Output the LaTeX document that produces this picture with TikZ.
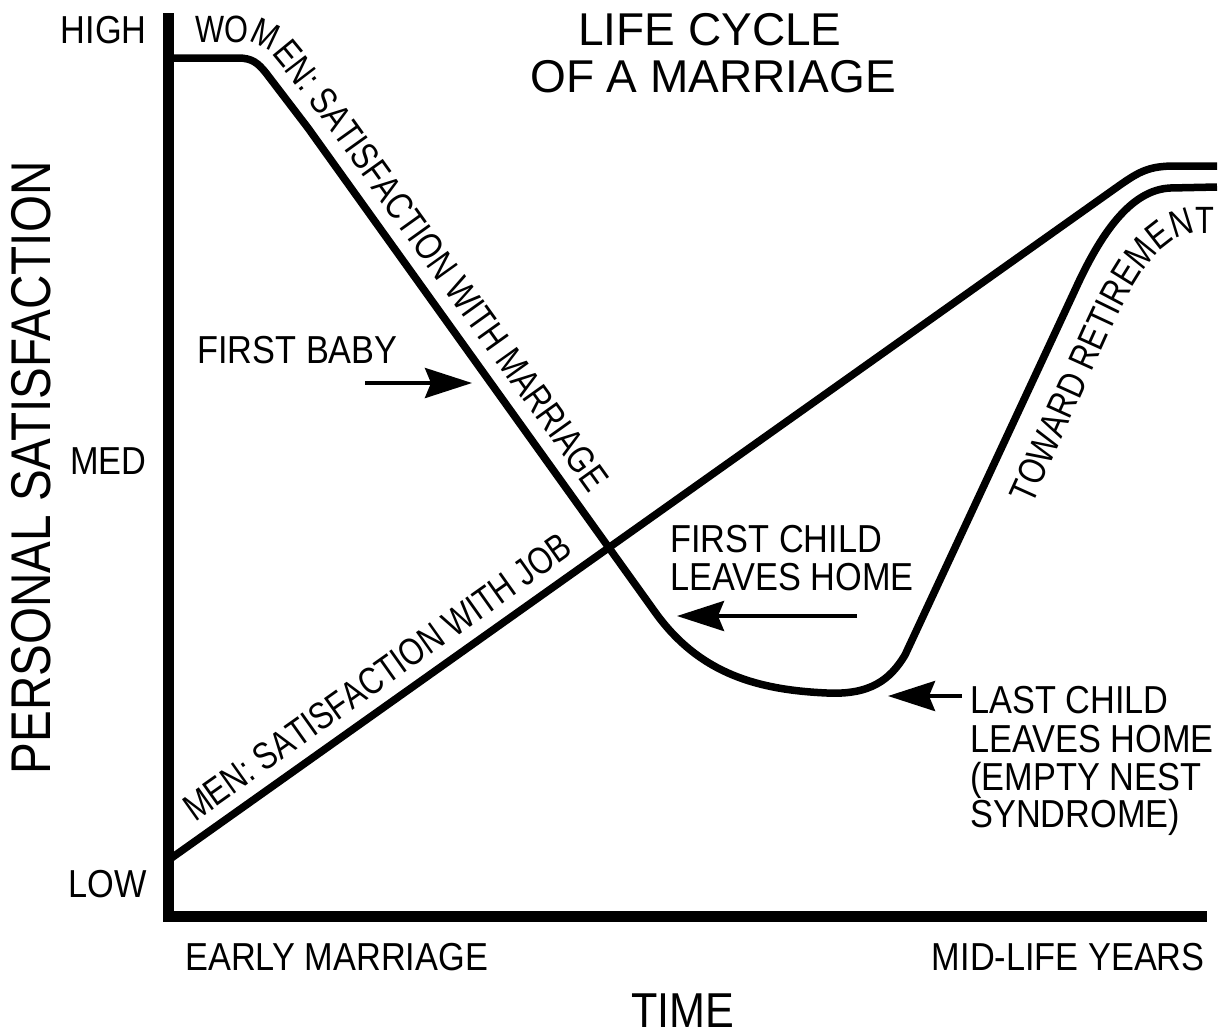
\documentclass[tikz,border=0pt]{standalone}
\usepackage{fontspec}
\setmainfont{Liberation Sans}
\newfontfamily\labfont[FakeStretch=0.88]{Liberation Sans}
\newfontfamily\curvefam[FakeStretch=0.81]{Liberation Sans}
\newfontfamily\axisfont[FakeStretch=0.85]{Liberation Sans}
\newfontfamily\titfont{Liberation Sans}
\newcommand\curvefont{\curvefam\fontsize{19}{19}\selectfont}
\usetikzlibrary{arrows.meta,decorations.text}
\tikzset{
  curve/.style={line width=3.75pt, line join=round, line cap=butt},
  axisline/.style={line width=5.5pt, line join=miter},
  pointer/.style={line width=2pt, -{Stealth[length=23.5pt,width=15pt,inset=3pt]}},
  lab/.style={font=\labfont\fontsize{19.5}{19}\selectfont, inner sep=0pt},
  bigtitle/.style={font=\titfont\fontsize{23}{23}\selectfont, inner sep=0pt},
  axlab/.style={font=\axisfont\fontsize{28}{28}\selectfont, inner sep=0pt},
  timelab/.style={font=\labfont\fontsize{24.5}{24.5}\selectfont, inner sep=0pt},
}
\begin{document}
\begin{tikzpicture}[x=0.5pt, y=-0.5pt]
\useasboundingbox (0,0) rectangle (1229,1035);
\fill[white] (0,0) rectangle (1229,1035);

% axes
\draw[axisline] (168,13) -- (168,916) -- (1207,916);

% women curve
\draw[curve] (170,58) -- (238,58) .. controls (252,58) and (258,63) .. (266,73)
  -- (308,128) -- (655,612) .. controls (700,675) and (760,690) .. (827,693)
  .. controls (870,695) and (890,680) .. (905,655) -- (1075,290)
  .. controls (1100,235) and (1130,190) .. (1170,188) -- (1217,187);

% men line
\draw[curve] (170,859) -- (1120,185) .. controls (1140,171) and (1150,166) .. (1175,166) -- (1217,166);

% curve texts
\path[decorate, decoration={text along path, text align=left,
  text={|\curvefont|WOMEN: SATISFACTION WITH MARRIAGE}}]
  (195,42) -- (238,42) .. controls (262,42) and (270,52) .. (279,63) -- (321,118) -- (668,603);
\path[decorate, decoration={text along path, text align=left,
  text={|\curvefont|MEN: SATISFACTION WITH JOB}}]
  (195,822) -- (900,322);
\path[decorate, decoration={text along path, text align=left,
  text={|\curvefont|TOWARD RETIREMENT}}]
  (1032,505) -- (1110,332) .. controls (1135,277) and (1160,236) .. (1195,233) -- (1280,233);

% axis labels
\node[lab, anchor=base east] (high) at (147,43) {HIGH};
\node[lab, anchor=base east] (med) at (147,474) {MED};
\node[lab, anchor=base east] (low) at (147,897) {LOW};
\node[axlab, rotate=90, anchor=base] (ylab) at (50,468) {PERSONAL SATISFACTION};
\node[lab, anchor=base west] (early) at (185,970) {EARLY MARRIAGE};
\node[lab, anchor=base east] (midlife) at (1205,970) {MID-LIFE YEARS};
\node[timelab, anchor=base] (time) at (683,1027) {TIME};

% title
\node[bigtitle, anchor=base] (title1) at (710,45) {LIFE CYCLE};
\node[bigtitle, anchor=base] (title2) at (713,92) {OF A MARRIAGE};

% annotations
\node[lab, anchor=base west] (baby) at (197,363) {FIRST BABY};
\node[lab, anchor=base west] (fc1) at (670,552) {FIRST CHILD};
\node[lab, anchor=base west] (fc2) at (670,590) {LEAVES HOME};
\node[lab, anchor=base west] (lc1) at (970,713) {LAST CHILD};
\node[lab, anchor=base west] (lc2) at (970,752) {LEAVES HOME};
\node[lab, anchor=base west] (lc3) at (970,790) {(EMPTY NEST};
\node[lab, anchor=base west] (lc4) at (970,827) {SYNDROME)};

% arrows
\coordinate (babyS) at (365,383);
\coordinate (babyE) at (472,383);
\coordinate (fcS) at (857,616);
\coordinate (fcE) at (677,616);
\coordinate (lcS) at (962,696);
\coordinate (lcE) at (888,696);
\draw[pointer] (babyS) -- (babyE);
\draw[pointer] (fcS) -- (fcE);
\draw[pointer] (lcS) -- (lcE);
\end{tikzpicture}
\end{document}
